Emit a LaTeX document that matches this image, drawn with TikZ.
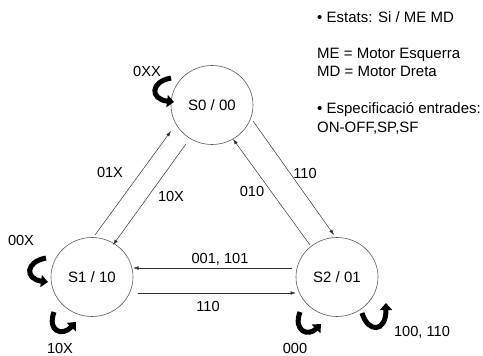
\documentclass[tikz,border=0pt]{standalone}
\usepackage{fontspec}
\setmainfont{Liberation Sans}
\usetikzlibrary{shapes.geometric,arrows.meta,calc}
\tikzset{
  state/.style={draw=black!65, line width=0.6pt, ellipse, minimum width=82pt, minimum height=79pt, inner sep=0pt, font=\fontsize{15}{18}\selectfont},
  trans/.style={draw=black!80, line width=0.5pt, -{Latex[length=5.5pt,width=3.6pt]}},
  selfloop/.style={draw=black, line width=5pt, -{Triangle[length=7pt,width=12pt]}},
  lbl/.style={inner sep=0pt, anchor=base, font=\fontsize{14.6}{17}\selectfont},
  note/.style={inner sep=0pt, anchor=base west, font=\fontsize{15}{18}\selectfont}
}
\begin{document}
\begin{tikzpicture}[x=1pt,y=-1pt]
\useasboundingbox (0,0) rectangle (483,356);
% states
\node[state] (s0) at (212,105) {S0 / 00};
\node[state] (s1) at (92,277) {S1 / 10};
\node[state] (s2) at (337,277) {S2 / 01};
% transitions
\draw[trans] ($(s1.center)+(3,-42)$) -- ($(s0.center)+(-41,26)$);
\draw[trans] ($(s0.center)+(-26,39)$) -- ($(s1.center)+(21,-32)$);
\draw[trans] ($(s2.center)+(-27,-32)$) -- ($(s0.center)+(21,34)$);
\draw[trans] ($(s0.center)+(41,16)$) -- ($(s2.center)+(-3,-42)$);
\draw[trans] ($(s2.center)+(-45,-9)$) -- ($(s1.center)+(41,-9)$);
\draw[trans] ($(s1.center)+(46,16)$) -- ($(s2.center)+(-41,16)$);
% self loops
\draw[selfloop] ($(s0.center)+(-41,-27)$) .. controls ($(s0.center)+(-62,-23)$) and ($(s0.center)+(-62,-6)$) .. ($(s0.center)+(-38,-3)$);
\draw[selfloop] ($(s1.center)+(-46,-19)$) .. controls ($(s1.center)+(-67,-15)$) and ($(s1.center)+(-67,2)$) .. ($(s1.center)+(-44,5)$);
\draw[selfloop] ($(s1.center)+(-38,35)$) .. controls ($(s1.center)+(-45,54)$) and ($(s1.center)+(-30,60)$) .. ($(s1.center)+(-16,45)$);
\draw[selfloop] ($(s2.center)+(-37,35)$) .. controls ($(s2.center)+(-44,54)$) and ($(s2.center)+(-29,60)$) .. ($(s2.center)+(-16,47)$);
\draw[selfloop] ($(s2.center)+(25,36)$) .. controls ($(s2.center)+(31,56)$) and ($(s2.center)+(49,56)$) .. ($(s2.center)+(49,26)$);
% loop labels
\node[lbl] (l0) at (147,76.5) {0XX};
\node[lbl] (l1) at (21,245.3) {00X};
\node[lbl] (l2) at (60,353.5) {10X};
\node[lbl] (l3) at (295,353.5) {000};
\node[lbl] (l4) at (422,336.5) {100, 110};
% transition labels
\node[lbl] (e1) at (110,177.3) {01X};
\node[lbl] (e2) at (171,201.3) {10X};
\node[lbl] (e3) at (252,196.3) {010};
\node[lbl] (e4) at (305,178.3) {110};
\node[lbl] (e5) at (220,263.3) {001, 101};
\node[lbl] (e6) at (208,311.3) {110};
% notes
\node[note] (n1) at (317,22.5) {• Estats: Si / ME MD};
\node[note] (n2) at (317,58.5) {ME = Motor Esquerra};
\node[note] (n3) at (317,77) {MD = Motor Dreta};
\node[note] (n4) at (317,113) {• Especificació entrades:};
\node[note] (n5) at (317,132) {ON-OFF,SP,SF};
\end{tikzpicture}
\end{document}
